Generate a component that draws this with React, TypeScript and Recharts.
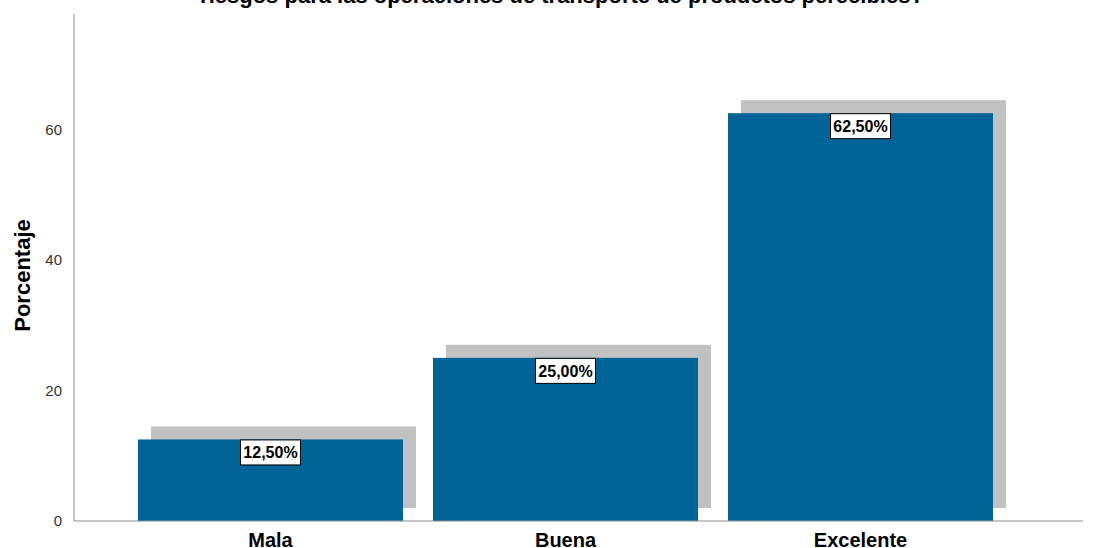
import React from "react";
import { BarChart, Bar, XAxis, YAxis, LabelList, Label } from "recharts";

const categories = ["Mala", "Buena", "Excelente"];
const porcentajes = [12.5, 25.0, 62.5];
const yTicks = [0, 20, 40, 60];
const title = "riesgos para las operaciones de transporte de productos perecibles?";
const yAxisTitle = "Porcentaje";

const data = categories.map((c, i) => ({ name: c, value: porcentajes[i] }));

const FONT = "'Liberation Sans', Arial, sans-serif";
const SHADOW = 13;

const ShadowBar = (props: any) => {
  const { x, y, width, height } = props;
  return (
    <g>
      <rect x={x + SHADOW} y={y - SHADOW} width={width} height={height} fill="#c1c1c1" />
      <rect x={x} y={y} width={width} height={height} fill="#006498" />
    </g>
  );
};

const BoxLabel = (props: any) => {
  const { x, y, width, value } = props;
  const cx = x + width / 2;
  const w = 60;
  const h = 25;
  return (
    <g>
      <rect x={cx - w / 2} y={y + 0.5} width={w} height={h} fill="#fff" stroke="#000" strokeWidth={1} />
      <text x={cx} y={y + 19} textAnchor="middle" fontFamily={FONT} fontWeight="bold" fontSize={16} fill="#000">
        {value.toFixed(2).replace(".", ",")}%
      </text>
    </g>
  );
};

const YTitle = (props: any) => {
  const vb = props.viewBox || {};
  const cx = (vb.x ?? 0) + 22;
  const cy = (vb.y ?? 0) + (vb.height ?? 0) / 2 + 8;
  return (
    <text
      x={cx}
      y={cy}
      transform={`rotate(-90, ${cx}, ${cy})`}
      textAnchor="middle"
      dominantBaseline="central"
      fontFamily={FONT}
      fontWeight="bold"
      fontSize={22}
      fill="#000"
    >
      {yAxisTitle}
    </text>
  );
};

export default function App() {
  return (
    <div style={{ position: "absolute", left: 0, top: 0, width: 1097, height: 548, background: "#fff" }}>
      <svg style={{ position: "absolute", left: 0, top: 0 }} width={1097} height={20}>
        <text x={562} y={3} textAnchor="middle" fontFamily={FONT} fontWeight="bold" fontSize={22} fill="#000">
          {title}
        </text>
      </svg>
      <BarChart
        width={1097}
        height={548}
        data={data}
        margin={{ top: 14, right: 14, left: 0, bottom: 0 }}
        barCategoryGap={15}
        style={{ fontFamily: FONT }}
      >
        <XAxis
          dataKey="name"
          height={27}
          padding={{ left: 49, right: 75 }}
          tickLine={false}
          axisLine={{ stroke: "#8c8c8c" }}
          tick={{ fill: "#000", fontSize: 20, fontWeight: "bold", fontFamily: FONT }}
          tickMargin={6}
        />
        <YAxis
          width={74}
          domain={[0, 77.7]}
          ticks={yTicks}
          tickLine={false}
          axisLine={{ stroke: "#8c8c8c" }}
          tick={{ fill: "#333", fontSize: 15, fontFamily: FONT }}
          tickMargin={6}
        >
          <Label content={<YTitle />} />
        </YAxis>
        <Bar dataKey="value" shape={<ShadowBar />} isAnimationActive={false}>
          <LabelList dataKey="value" content={<BoxLabel />} />
        </Bar>
      </BarChart>
    </div>
  );
}
